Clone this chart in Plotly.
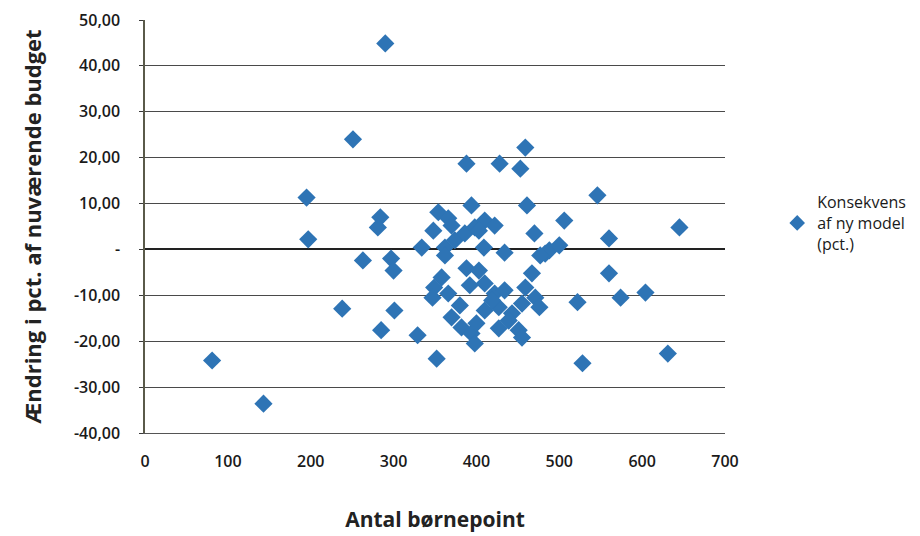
import plotly.graph_objects as go

# Data (Antal børnepoint, Ændring i pct.)
points_x = [290, 251, 195, 197, 238, 81, 143, 284, 281, 263, 297, 300, 301, 285, 329, 352,
            334, 354, 366, 348, 370, 388, 394, 362, 374, 386, 398, 362, 388, 358, 349, 366,
            370, 382, 394, 398, 459, 428, 453, 461, 410, 422, 403, 470, 409, 434, 483, 403,
            410, 422, 434, 467, 459, 471, 410, 427, 443, 476, 400, 427, 451, 455, 546, 506,
            645, 560, 488, 500, 477, 560, 455, 439, 522, 574, 604, 528, 631, 347, 419, 380, 392]
points_y = [44.9, 24.0, 11.3, 2.2, -12.9, -24.2, -33.6, 7.0, 4.8, -2.4, -2.0, -4.6, -13.3, -17.6,
            -18.7, -23.8, 0.4, 8.1, 6.8, 4.1, 5.2, 18.7, 9.6, 0.4, 2.0, 3.5, 4.8, -1.3, -4.1, -6.1,
            -8.3, -9.6, -14.8, -17.0, -18.3, -20.5, 22.2, 18.7, 17.6, 9.6, 6.3, 5.2, 4.1, 3.5, 0.4,
            -0.7, -0.9, -4.6, -7.4, -9.6, -8.9, -5.2, -8.3, -10.5, -13.3, -12.6, -13.9, -12.6,
            -16.1, -17.2, -17.6, -19.2, 11.8, 6.3, 4.8, 2.4, -0.2, 0.9, -1.3, -5.2, -11.8, -15.5,
            -11.5, -10.5, -9.4, -24.8, -22.7, -10.5, -11.1, -12.2, -7.8]

y_tickvals = [50, 40, 30, 20, 10, 0, -10, -20, -30, -40]
y_ticktext = ["50,00", "40,00", "30,00", "20,00", "10,00", "-", "-10,00", "-20,00", "-30,00", "-40,00"]
x_tickvals = [0, 100, 200, 300, 400, 500, 600, 700]

series_name = "Konsekvens<br>af ny model<br>(pct.)"

fig = go.Figure()
fig.add_trace(go.Scatter(
    x=points_x, y=points_y, mode="markers", name=series_name,
    marker=dict(symbol="diamond", size=14, color="#2E74B5",
                line=dict(width=0)),
))

font_family = "'Open Sans', Lato, sans-serif"
tick_font = dict(size=16, color="#1a1a1a", family=font_family, weight=600)

fig.update_layout(
    width=920, height=536,
    margin=dict(l=137, r=203, t=12, b=111),
    paper_bgcolor="white", plot_bgcolor="white",
    font=dict(family=font_family, color="#1a1a1a"),
    showlegend=True,
    legend=dict(x=1.09, y=0.6, xanchor="left", yanchor="top",
                font=dict(size=16, color="#1a1a1a", family=font_family),
                bgcolor="rgba(0,0,0,0)", itemsizing="constant", tracegroupgap=0,
                borderwidth=0),
    xaxis=dict(range=[0, 700], tickvals=x_tickvals, showgrid=False,
               zeroline=False, showline=True, linecolor="#555555", linewidth=1.3,
               ticks="", automargin=False,
               ticklabelstandoff=14,
               tickfont=tick_font,
               title=dict(text="<b>Antal børnepoint</b>",
                          font=dict(size=21, color="#222222"), standoff=40)),
    yaxis=dict(range=[-40, 50], tickvals=y_tickvals, ticktext=y_ticktext,
               showgrid=True, gridcolor="#4a4a4a", gridwidth=1.3,
               zeroline=True, zerolinecolor="#222222", zerolinewidth=1.5,
               showline=True, linecolor="#5a5a4a", linewidth=1.5,
               ticks="outside", ticklen=4, tickcolor="#3a3a3a", automargin=False,
               ticklabelstandoff=16,
               tickfont=tick_font,
               title=dict(text="<b>Ændring i pct. af nuværende budget</b>",
                          font=dict(size=22, color="#222222"), standoff=26)),
)

fig.write_html("out.html")
